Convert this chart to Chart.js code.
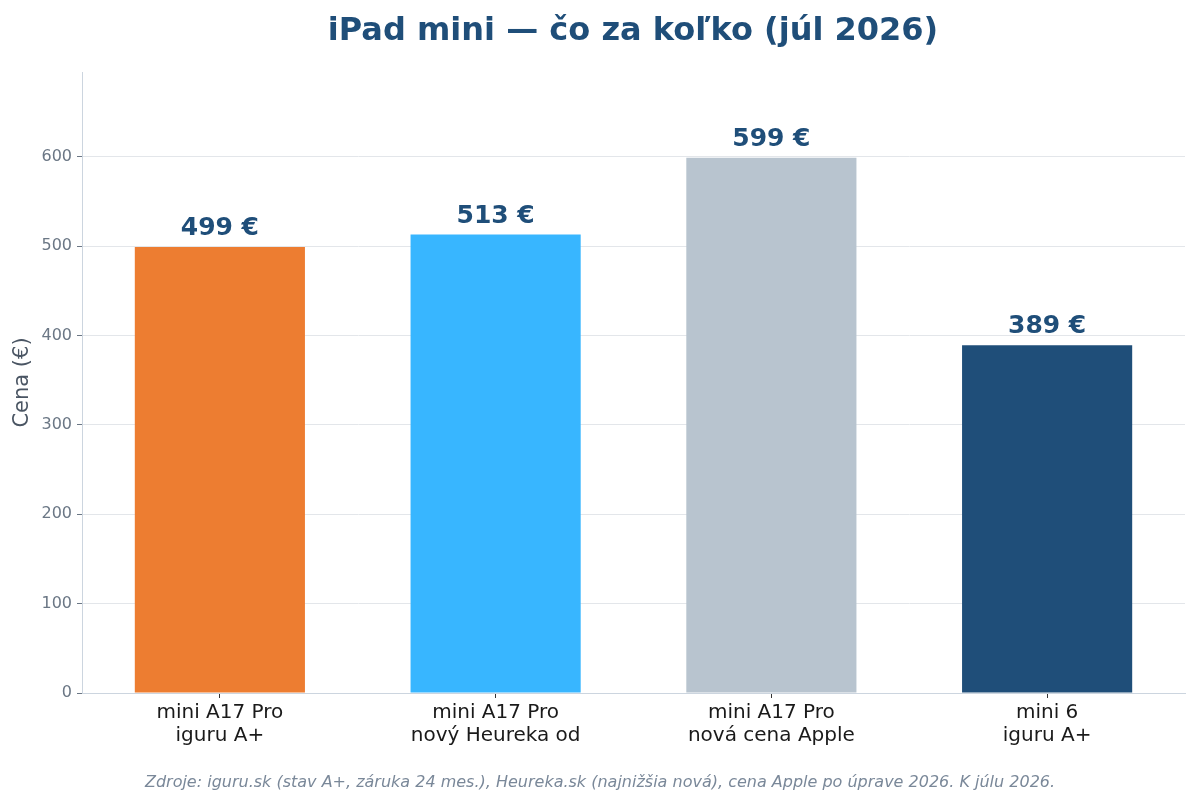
<!DOCTYPE html>
<html>
<head>
<meta charset="utf-8">
<script src="https://cdn.jsdelivr.net/npm/chart.js@4.4.1/dist/chart.umd.min.js"></script>
<style>
  html, body { margin: 0; padding: 0; background: #fff; }
  #chart { display: block; }
</style>
</head>
<body>
<canvas id="chart" width="1200" height="800"></canvas>
<script>
const categories = [
    ['mini A17 Pro', 'iguru A+'],
    ['mini A17 Pro', 'nový Heureka od'],
    ['mini A17 Pro', 'nová cena Apple'],
    ['mini 6', 'iguru A+']
];
const prices = [499, 513, 599, 389];
const barColors = ['#ed7d31', '#38b6ff', '#b8c4cf', '#1f4e79'];
const yTicks = [0, 100, 200, 300, 400, 500, 600];

const titleText = 'iPad mini — čo za koľko (júl 2026)';
const footerText = 'Zdroje: iguru.sk (stav A+, záruka 24 mes.), Heureka.sk (najnižšia nová), cena Apple po úprave 2026. K júlu 2026.';
const FONT = '"DejaVu Sans", sans-serif';

// title, footer and value labels drawn on the canvas
const decorations = {
    id: 'decorations',
    afterDatasetsDraw(chart) {
        const ctx = chart.ctx;
        const meta = chart.getDatasetMeta(0);
        ctx.save();
        ctx.fillStyle = '#1f4e79';
        ctx.font = 'bold 25px ' + FONT;
        ctx.textAlign = 'center';
        ctx.textBaseline = 'alphabetic';
        meta.data.forEach((bar, i) => {
            ctx.fillText(prices[i] + ' €', bar.x, bar.y - 12);
        });
        ctx.restore();
    },
    afterDraw(chart) {
        const ctx = chart.ctx;
        ctx.save();
        ctx.textAlign = 'center';
        ctx.textBaseline = 'middle';
        ctx.fillStyle = '#1f4e79';
        ctx.font = 'bold 32px ' + FONT;
        ctx.fillText(titleText, 633, 32);
        ctx.fillStyle = '#7a8899';
        ctx.font = 'italic 16px ' + FONT;
        ctx.fillText(footerText, 600, 783);
        ctx.restore();
    }
};

new Chart(document.getElementById('chart').getContext('2d'), {
    type: 'bar',
    data: {
        labels: categories,
        datasets: [{
            data: prices,
            backgroundColor: barColors,
            borderWidth: 0,
            barPercentage: 0.617,
            categoryPercentage: 1
        }]
    },
    options: {
        responsive: false,
        animation: false,
        layout: { padding: { top: 72, right: 15, left: 0, bottom: 0 } },
        plugins: {
            legend: { display: false },
            tooltip: { enabled: false }
        },
        scales: {
            x: {
                grid: { drawOnChartArea: false, offset: false, tickLength: 5, color: '#333' },
                border: { color: '#ccd5df', width: 1 },
                ticks: { color: '#1a1a1a', font: { family: FONT, size: 20, lineHeight: 1.15 }, padding: 3 },
                afterFit(scale) { scale.height = 107; }
            },
            y: {
                min: 0,
                max: 694.84,
                afterBuildTicks(scale) { scale.ticks = yTicks.map(v => ({ value: v })); },
                grid: { color: '#e3e6ea', tickLength: 5, tickColor: '#6b7785' },
                border: { color: '#ccd5df', width: 1 },
                ticks: { color: '#6b7785', font: { family: FONT, size: 16 }, padding: 5 },
                title: {
                    display: true,
                    text: 'Cena (€)',
                    color: '#4a5563',
                    font: { family: FONT, size: 21 },
                    padding: { top: 10, bottom: 0 }
                },
                afterFit(scale) { scale.width = 82; }
            }
        }
    },
    plugins: [decorations]
});
</script>
</body>
</html>
